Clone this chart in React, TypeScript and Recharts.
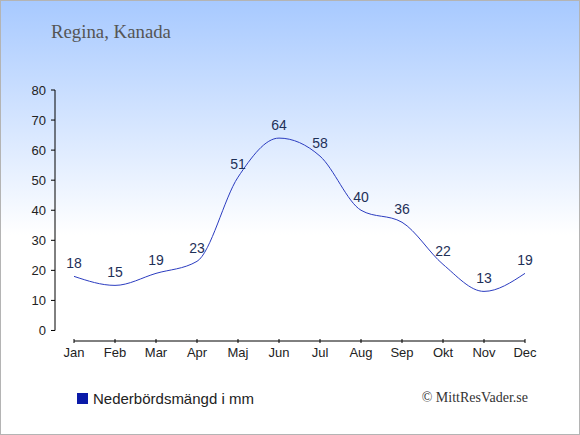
import React from 'react';
import { LineChart, Line, XAxis, YAxis, LabelList, ReferenceLine } from 'recharts';

// Nederbörd per månad, Regina (mm)
const months = ['Jan', 'Feb', 'Mar', 'Apr', 'Maj', 'Jun', 'Jul', 'Aug', 'Sep', 'Okt', 'Nov', 'Dec'];
const precipitation = [18, 15, 19, 23, 51, 64, 58, 40, 36, 22, 13, 19];
const yTicks = [0, 10, 20, 30, 40, 50, 60, 70, 80];

const data = months.map((month, i) => ({ i, month, value: precipitation[i] }));

const X_MIN = -19 / 41;
const X_MAX = months.length - 1;
const Y_MIN = -3.5;
const Y_MAX = 80;

const sans = '"Liberation Sans", Arial, sans-serif';
const serif = '"Liberation Serif", "Times New Roman", serif';

const MonthTick = (props: any) => {
  const { x, y, payload } = props;
  return (
    <g>
      <line x1={x} x2={x} y1={y - 2} y2={y + 2} stroke="#000" />
      <text x={x} y={y + 16} textAnchor="middle" fontSize={13} fill="#222" fontFamily={sans}>
        {months[payload.value]}
      </text>
    </g>
  );
};

const App: React.FC = () => {
  return (
    <div
      style={{
        position: 'relative',
        width: 580,
        height: 435,
        background: 'linear-gradient(to bottom, #a7c9ff 0%, #ffffff 54%, #ffffff 100%)',
      }}
    >
      <style>{'body{margin:0}'}</style>
      <LineChart
        width={580}
        height={435}
        data={data}
        margin={{ top: 90, right: 55, bottom: 64, left: 15 }}
        style={{ position: 'absolute', top: 0, left: 0 }}
      >
        <XAxis
          type="number"
          dataKey="i"
          domain={[X_MIN, X_MAX]}
          allowDataOverflow
          ticks={months.map((_, i) => i)}
          interval={0}
          axisLine={false}
          tickLine={false}
          tickSize={0}
          tickMargin={0}
          height={30}
          tick={<MonthTick />}
        />
        <YAxis
          type="number"
          domain={[Y_MIN, Y_MAX]}
          allowDataOverflow
          ticks={yTicks}
          interval={0}
          width={40}
          axisLine={false}
          tickLine={{ stroke: '#000' }}
          tickSize={4}
          tickMargin={5}
          tick={{ fontSize: 13, fill: '#222', fontFamily: sans }}
        />
        <ReferenceLine
          segment={[{ x: 0, y: Y_MIN }, { x: X_MAX, y: Y_MIN }]}
          stroke="#000"
          ifOverflow="visible"
        />
        <ReferenceLine
          segment={[{ x: X_MIN, y: 0 }, { x: X_MIN, y: Y_MAX }]}
          stroke="#000"
          ifOverflow="visible"
        />
        <Line
          type="monotone"
          dataKey="value"
          stroke="#2b3cc0"
          strokeWidth={1}
          dot={false}
          activeDot={false}
          isAnimationActive={false}
        >
          <LabelList
            dataKey="value"
            position="top"
            offset={8}
            fill="#1e3058"
            fontSize={14}
            fontFamily={sans}
          />
        </Line>
      </LineChart>
      <svg
        width={580}
        height={435}
        style={{ position: 'absolute', top: 0, left: 0, pointerEvents: 'none' }}
      >
        <rect x={0.5} y={0.5} width={579} height={434} fill="none" stroke="#b4b4b4" />
        <text x={51} y={38} fontSize={18.8} fill="#555" fontFamily={serif}>
          Regina, Kanada
        </text>
        <rect x={77} y={393} width={11} height={11} fill="#0a1aa8" />
        <text x={93} y={404} fontSize={15} fill="#222" fontFamily={sans}>
          Nederbördsmängd i mm
        </text>
        <text x={528} y={402} fontSize={14} fill="#333" fontFamily={serif} textAnchor="end">
          © MittResVader.se
        </text>
      </svg>
    </div>
  );
};

export default App;
